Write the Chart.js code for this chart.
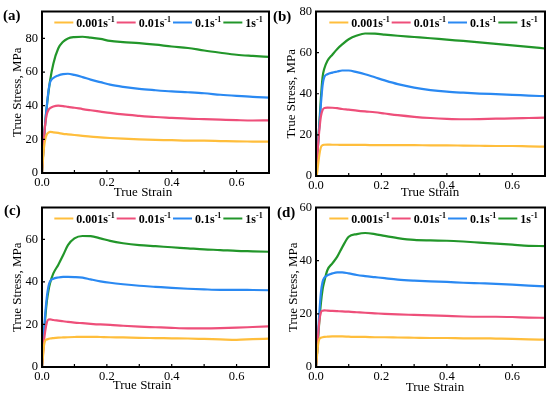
<!DOCTYPE html>
<html>
<head>
<meta charset="utf-8">
<script src="https://cdn.jsdelivr.net/npm/chart.js@4.4.1/dist/chart.umd.min.js"></script>
<style>
  body { margin: 0; background: #fff; }
  #wrap { position: relative; width: 550px; height: 396px; overflow: hidden; background: #fff; }
  canvas { position: absolute; }
</style>
</head>
<body>
<div id="wrap">
  <canvas id="chartA" width="275" height="198" style="left:0;top:0"></canvas>
  <canvas id="chartB" width="280" height="198" style="left:270px;top:0"></canvas>
  <canvas id="chartC" width="275" height="200" style="left:0;top:196px"></canvas>
  <canvas id="chartD" width="280" height="200" style="left:270px;top:196px"></canvas>
</div>
<script>
// shared strain points (x values)
const strain = [0, 0.003, 0.006, 0.01, 0.015, 0.02, 0.025, 0.035, 0.05, 0.065, 0.08, 0.1, 0.125,
  0.15, 0.18, 0.21, 0.25, 0.3, 0.35, 0.4, 0.45, 0.5, 0.55, 0.6, 0.65, 0.7];

const rateLabels = ["0.001s", "0.01s", "0.1s", "1s"];
const rateColors = ["#ffbe3c", "#ee4f7a", "#2a89f2", "#22962a"];
const xTicks = [0, 0.2, 0.4, 0.6];

// panel (a)
const stressA001 = [0, 8, 15, 20, 23, 24, 24.4, 24.2, 23.8, 23.3, 23, 22.6, 22.1, 21.6, 21.2, 20.8, 20.4, 20, 19.7, 19.5, 19.2, 19.2, 19, 18.8, 18.7, 18.6];
const stressA01 = [0, 10, 20, 29, 35, 37.5, 38.5, 39.5, 40, 39.8, 39.3, 38.8, 38, 37.3, 36.5, 35.7, 34.8, 34, 33.3, 32.8, 32.3, 32, 31.7, 31.4, 31.2, 31.3];
const stressA1 = [0, 10, 20, 30, 40, 49, 54, 56.5, 58, 58.8, 59, 58.3, 57, 55.5, 54, 52.5, 51.2, 50, 49.2, 48.5, 48, 47.4, 46.5, 45.8, 45.2, 44.8];
const stressA10 = [0, 10, 20, 30, 40, 48, 55, 65, 74, 78, 80, 80.8, 81, 80.5, 79.7, 78.5, 77.8, 77.2, 76.3, 75.2, 74.3, 72.8, 71.5, 70.3, 69.6, 69];

// panel (b)
const stressB001 = [0, 1, 5, 10, 14, 15, 15.2, 15.3, 15.2, 15.2, 15.1, 15.1, 15.1, 15.1, 15, 15, 15, 15, 14.9, 14.9, 14.8, 14.7, 14.6, 14.6, 14.4, 14.3];
const stressB01 = [0, 7, 14, 22, 29, 32, 33, 33.3, 33.2, 33, 32.6, 32.3, 31.8, 31.4, 31, 30.4, 29.6, 28.8, 28.2, 27.8, 27.6, 27.7, 27.9, 28, 28.2, 28.4];
const stressB1 = [0, 8, 15, 24, 35, 44, 48, 49.5, 50.3, 50.8, 51.3, 51.3, 50.5, 49.5, 48, 46.5, 44.7, 43, 41.8, 41, 40.5, 40.1, 39.8, 39.5, 39.1, 38.8];
const stressB10 = [0, 8, 15, 25, 38, 48, 52, 56, 59, 61.8, 64, 66.5, 68.3, 69.3, 69.2, 68.8, 68.2, 67.6, 67, 66.3, 65.7, 65, 64.3, 63.5, 62.8, 62];

// panel (c)
const stressC001 = [0, 5, 10, 12.5, 13, 13.2, 13.4, 13.6, 13.8, 13.9, 14, 14.1, 14.2, 14.2, 14.1, 14, 13.9, 13.7, 13.6, 13.5, 13.4, 13.2, 13, 12.8, 13.1, 13.3];
const stressC01 = [0, 6, 12, 17, 21, 22.3, 22.4, 22.1, 21.8, 21.5, 21.2, 20.9, 20.6, 20.3, 20, 19.8, 19.4, 19, 18.7, 18.4, 18.2, 18.2, 18.3, 18.5, 18.8, 19.1];
const stressC1 = [0, 8, 16, 25, 33, 38, 40.3, 41.5, 42.1, 42.4, 42.4, 42.3, 42, 41.2, 40.3, 39.6, 38.9, 38.2, 37.7, 37.2, 36.8, 36.5, 36.3, 36.3, 36.2, 36.1];
const stressC10 = [0, 8, 15, 23, 31, 36, 39.5, 44, 48, 52.5, 57.3, 60.5, 61.6, 61.5, 60.5, 59.3, 58.2, 57.3, 56.8, 56.3, 55.8, 55.3, 55, 54.6, 54.4, 54.2];

// panel (d)
const stressD001 = [0, 4, 8, 10.5, 11, 11.2, 11.3, 11.4, 11.5, 11.5, 11.5, 11.4, 11.3, 11.3, 11.2, 11.2, 11.1, 11, 10.9, 10.9, 10.8, 10.8, 10.7, 10.6, 10.4, 10.3];
const stressD01 = [0, 5, 11, 17, 20.5, 21.2, 21.3, 21.2, 21.1, 21, 20.9, 20.8, 20.6, 20.4, 20.2, 20, 19.8, 19.6, 19.4, 19.2, 19, 18.9, 18.9, 18.8, 18.6, 18.5];
const stressD1 = [0, 5, 12, 20, 28, 32, 33.5, 34.5, 35.2, 35.6, 35.6, 35.2, 34.6, 34.2, 33.8, 33.4, 32.9, 32.5, 32.2, 32, 31.7, 31.5, 31.3, 31, 30.6, 30.3];
const stressD10 = [0, 5, 10, 17, 24, 29, 32, 36.5, 39, 41.5, 45, 49, 50, 50.4, 50, 49.3, 48.5, 47.8, 47.6, 47.5, 47.2, 46.8, 46.4, 46, 45.6, 45.5];

const SERIF = "'Liberation Serif', 'Times New Roman', serif";
Chart.defaults.font.family = SERIF;
Chart.defaults.color = "#000";

// frame, inward ticks, legend, x title and panel letter
const panelDeco = {
  id: "panelDeco",
  afterDraw(chart, args, opts) {
    const { ctx, chartArea: a, scales: { x, y } } = chart;
    ctx.save();
    ctx.strokeStyle = "#000";
    ctx.lineWidth = 1.2;
    ctx.beginPath();
    for (let v = 0; v <= 0.70001; v += 0.1) {
      const px = x.getPixelForValue(v);
      ctx.moveTo(px, a.bottom);
      ctx.lineTo(px, a.bottom - 3);
    }
    y.ticks.forEach((t) => {
      const py = y.getPixelForValue(t.value);
      ctx.moveTo(a.left, py);
      ctx.lineTo(a.left + 3, py);
    });
    ctx.stroke();
    ctx.lineWidth = 2;
    ctx.strokeRect(a.left, a.top, a.right - a.left, a.bottom - a.top);

    // legend
    const mainFont = "bold 12px " + SERIF;
    const supFont = "bold 8px " + SERIF;
    const items = chart.data.datasets.map((ds) => {
      ctx.font = mainFont;
      const mw = ctx.measureText(ds.label).width;
      ctx.font = supFont;
      const sw = ctx.measureText("-1").width;
      return { ds, mw, sw, w: 19 + 3 + mw + sw };
    });
    const gap = 2;
    const total = items.reduce((s, it) => s + it.w, 0) + gap * (items.length - 1);
    let lx = (a.left + a.right) / 2 + 3 - total / 2;
    const ly = a.top + 11;
    ctx.textBaseline = "middle";
    ctx.textAlign = "left";
    items.forEach((it) => {
      ctx.strokeStyle = it.ds.borderColor;
      ctx.lineWidth = 2;
      ctx.beginPath();
      ctx.moveTo(lx, ly);
      ctx.lineTo(lx + 19, ly);
      ctx.stroke();
      ctx.fillStyle = "#000";
      ctx.font = mainFont;
      ctx.fillText(it.ds.label, lx + 22, ly + 1);
      ctx.font = supFont;
      ctx.fillText("-1", lx + 22 + it.mw, ly - 3);
      lx += it.w + gap;
    });

    // x axis title
    ctx.font = "13px " + SERIF;
    ctx.textAlign = "center";
    ctx.fillText("True Strain", opts.titleX, opts.titleY);

    // panel letter
    ctx.font = "bold 15px " + SERIF;
    ctx.textAlign = "left";
    ctx.fillText(opts.letter, opts.letterX, opts.letterY);
    ctx.restore();
  },
};

function makePanel(id, series, cfg) {
  const datasets = series.map((vals, i) => ({
    label: rateLabels[i],
    data: strain.map((s, k) => ({ x: s, y: vals[k] })),
    borderColor: rateColors[i],
    borderWidth: 2.2,
    pointRadius: 0,
    cubicInterpolationMode: "monotone",
    fill: false,
  }));
  return new Chart(document.getElementById(id), {
    type: "line",
    data: { datasets },
    plugins: [panelDeco],
    options: {
      responsive: false,
      animation: false,
      layout: { padding: { top: cfg.padTop, right: cfg.padRight, left: 0, bottom: 0 } },
      plugins: {
        legend: { display: false },
        tooltip: { enabled: false },
        panelDeco: {
          titleX: cfg.titleX,
          titleY: cfg.titleY,
          letter: cfg.letter,
          letterX: cfg.letterX,
          letterY: cfg.letterY,
        },
      },
      scales: {
        x: {
          type: "linear",
          min: 0,
          max: 0.7,
          afterFit: (s) => { s.height = cfg.xHeight; },
          afterBuildTicks: (s) => { s.ticks = xTicks.map((v) => ({ value: v })); },
          grid: { display: false, drawTicks: false },
          border: { display: false },
          ticks: {
            padding: 2,
            maxRotation: 0,
            autoSkip: false,
            font: { size: 12.5 },
            callback: (v) => Number(v).toFixed(1),
          },
        },
        y: {
          min: 0,
          max: cfg.yMax,
          afterFit: (s) => { s.width = cfg.yWidth; },
          grid: { display: false, drawTicks: false },
          border: { display: false },
          ticks: { stepSize: 20, includeBounds: false, padding: 4, font: { size: 12.5 } },
          title: {
            display: true,
            text: "True Stress, MPa",
            font: { size: 13 },
            padding: { top: cfg.yTitlePad, bottom: 0 },
          },
        },
      },
    },
  });
}

makePanel("chartA", [stressA001, stressA01, stressA1, stressA10], {
  yMax: 96, padTop: 6, padRight: 6, xHeight: 25, yWidth: 42, yTitlePad: 10,
  titleX: 143, titleY: 193, letter: "(a)", letterX: 3, letterY: 16,
});
makePanel("chartB", [stressB001, stressB01, stressB1, stressB10], {
  yMax: 80, padTop: 8, padRight: 5, xHeight: 22, yWidth: 46, yTitlePad: 14,
  titleX: 160, titleY: 193, letter: "(b)", letterX: 3, letterY: 17,
});
makePanel("chartC", [stressC001, stressC01, stressC1, stressC10], {
  yMax: 75, padTop: 4, padRight: 6, xHeight: 29, yWidth: 42, yTitlePad: 10,
  titleX: 142, titleY: 190, letter: "(c)", letterX: 4, letterY: 15,
});
makePanel("chartD", [stressD001, stressD01, stressD1, stressD10], {
  yMax: 60, padTop: 4, padRight: 5, xHeight: 29, yWidth: 46, yTitlePad: 16,
  titleX: 165, titleY: 192, letter: "(d)", letterX: 7, letterY: 17,
});
</script>
</body>
</html>
